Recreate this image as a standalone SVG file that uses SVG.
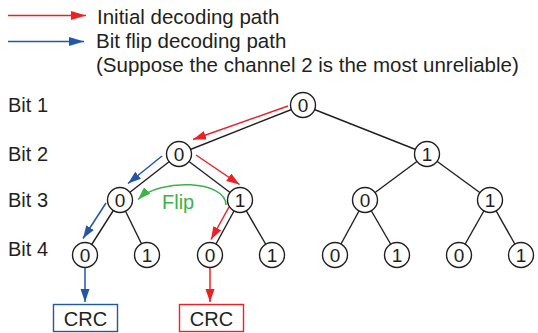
<svg xmlns="http://www.w3.org/2000/svg" width="538" height="333" viewBox="0 0 538 333">
<style>
text{font-family:"Liberation Sans",Arial,sans-serif;font-size:20px;fill:#231f20}
.lg{font-size:20.5px}
.edge{stroke:#231f20;stroke-width:1.4;fill:none}
.node circle{fill:#fff;stroke:#231f20;stroke-width:1.4}
.node text{font-size:19px;text-anchor:middle}
.red{stroke:#ed2024;stroke-width:1.5;fill:none}
.blue{stroke:#2456a8;stroke-width:1.5;fill:none}
.green{stroke:#3bb24a;stroke-width:1.5;fill:none}
</style>
<defs>
<marker id="ar" markerUnits="userSpaceOnUse" markerWidth="14" markerHeight="10" refX="13" refY="4.5" orient="auto"><path d="M0,0 L13,4.5 L0,9 z" fill="#ed2024"/></marker>
<marker id="ab" markerUnits="userSpaceOnUse" markerWidth="14" markerHeight="10" refX="13" refY="4.5" orient="auto"><path d="M0,0 L13,4.5 L0,9 z" fill="#2456a8"/></marker>
<marker id="ag" markerUnits="userSpaceOnUse" markerWidth="14" markerHeight="10" refX="13" refY="4.5" orient="auto"><path d="M0,0 L13,4.5 L0,9 z" fill="#3bb24a"/></marker>
<marker id="arL" markerUnits="userSpaceOnUse" markerWidth="16" markerHeight="10" refX="15" refY="4.5" orient="auto"><path d="M0,0 L15,4.5 L0,9 z" fill="#ed2024"/></marker>
<marker id="abL" markerUnits="userSpaceOnUse" markerWidth="16" markerHeight="10" refX="15" refY="4.5" orient="auto"><path d="M0,0 L15,4.5 L0,9 z" fill="#2456a8"/></marker>
</defs>

<g id="legend">
<line class="red" x1="8" y1="15.5" x2="86" y2="15.5" marker-end="url(#arL)"/>
<line class="blue" x1="8" y1="41.5" x2="84" y2="41.5" marker-end="url(#abL)"/>
<text class="lg" x="97" y="24">Initial decoding path</text>
<text class="lg" x="96" y="48">Bit flip decoding path</text>
<text class="lg" x="96" y="72">(Suppose the channel 2 is the most unreliable)</text>
</g>

<g id="bit-labels">
<text x="8" y="112">Bit 1</text>
<text x="8" y="161">Bit 2</text>
<text x="8" y="207">Bit 3</text>
<text x="8" y="256">Bit 4</text>
</g>

<g id="connectors">
<line class="edge" x1="303" y1="105" x2="179" y2="154"/>
<line class="edge" x1="303" y1="105" x2="427" y2="154"/>
<line class="edge" x1="179" y1="154" x2="120" y2="200"/>
<line class="edge" x1="179" y1="154" x2="240" y2="200"/>
<line class="edge" x1="427" y1="154" x2="365" y2="200"/>
<line class="edge" x1="427" y1="154" x2="490" y2="200"/>
<line class="edge" x1="120" y1="200" x2="85" y2="255"/>
<line class="edge" x1="120" y1="200" x2="147" y2="255"/>
<line class="edge" x1="240" y1="200" x2="210" y2="255"/>
<line class="edge" x1="240" y1="200" x2="272" y2="255"/>
<line class="edge" x1="365" y1="200" x2="335" y2="255"/>
<line class="edge" x1="365" y1="200" x2="397" y2="255"/>
<line class="edge" x1="490" y1="200" x2="459" y2="255"/>
<line class="edge" x1="490" y1="200" x2="521" y2="255"/>
<line class="red" x1="288" y1="106" x2="193" y2="139.5" marker-end="url(#ar)"/>
<line class="red" x1="196" y1="155" x2="239.5" y2="184.5" marker-end="url(#ar)"/>
<line class="red" x1="229" y1="207" x2="211" y2="239.5" marker-end="url(#ar)"/>
<line class="red" x1="210" y1="268" x2="210" y2="302" marker-end="url(#ar)"/>
<line class="blue" x1="162" y1="156" x2="128" y2="183.5" marker-end="url(#ab)"/>
<line class="blue" x1="106" y1="203" x2="83" y2="238.5" marker-end="url(#ab)"/>
<line class="blue" x1="85" y1="268" x2="85" y2="302" marker-end="url(#ab)"/>
<path class="green" d="M226,205 C226,180 160,178 138,199.5" marker-end="url(#ag)"/>
</g>

<g id="n-root" class="node"><circle cx="303" cy="105" r="12.5"/><text x="303" y="112">0</text></g>
<g id="n-2a" class="node"><circle cx="179" cy="154" r="12.5"/><text x="179" y="161">0</text></g>
<g id="n-2b" class="node"><circle cx="427" cy="154" r="12.5"/><text x="427" y="161">1</text></g>
<g id="n-3a" class="node"><circle cx="120" cy="200" r="12.5"/><text x="120" y="207">0</text></g>
<g id="n-3b" class="node"><circle cx="240" cy="200" r="12.5"/><text x="240" y="207">1</text></g>
<g id="n-3c" class="node"><circle cx="365" cy="200" r="12.5"/><text x="365" y="207">0</text></g>
<g id="n-3d" class="node"><circle cx="490" cy="200" r="12.5"/><text x="490" y="207">1</text></g>
<g id="n-4a" class="node"><circle cx="85" cy="255" r="12.5"/><text x="85" y="262">0</text></g>
<g id="n-4b" class="node"><circle cx="147" cy="255" r="12.5"/><text x="147" y="262">1</text></g>
<g id="n-4c" class="node"><circle cx="210" cy="255" r="12.5"/><text x="210" y="262">0</text></g>
<g id="n-4d" class="node"><circle cx="272" cy="255" r="12.5"/><text x="272" y="262">1</text></g>
<g id="n-4e" class="node"><circle cx="335" cy="255" r="12.5"/><text x="335" y="262">0</text></g>
<g id="n-4f" class="node"><circle cx="397" cy="255" r="12.5"/><text x="397" y="262">1</text></g>
<g id="n-4g" class="node"><circle cx="459" cy="255" r="12.5"/><text x="459" y="262">0</text></g>
<g id="n-4h" class="node"><circle cx="521" cy="255" r="12.5"/><text x="521" y="262">1</text></g>

<g id="flip-label"><text x="162" y="209" style="fill:#3bb24a">Flip</text></g>

<g id="crc-blue"><rect x="53.5" y="304.5" width="64" height="27" fill="#fff" stroke="#2456a8" stroke-width="1.4"/><text x="85.5" y="326" text-anchor="middle">CRC</text></g>
<g id="crc-red"><rect x="179.5" y="304.5" width="64" height="27" fill="#fff" stroke="#ed2024" stroke-width="1.4"/><text x="211.5" y="326" text-anchor="middle">CRC</text></g>
</svg>
